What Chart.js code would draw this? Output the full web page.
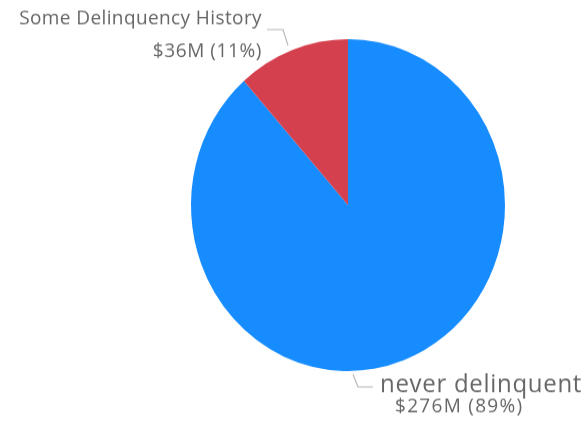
<!DOCTYPE html>
<html>
<head>
<meta charset="utf-8">
<script src="https://cdn.jsdelivr.net/npm/chart.js@4"></script>
<style>
  html, body { margin: 0; padding: 0; background: #fff; overflow: hidden; }
  #wrap { width: 586px; height: 425px; }
  #pie { display: block; transform: scaleY(1.0572); transform-origin: 0 0; }
</style>
</head>
<body>
<div id="wrap"><canvas id="pie" width="586" height="402" style="width:586px;height:402px"></canvas></div>
<script>
const categories = ['never delinquent', 'Some Delinquency History'];
const amounts = [276, 36];          // $M
const amountLabels = ['$276M (89%)', '$36M (11%)'];
const sliceColors = ['#168CFF', '#D5404E'];

function label(ctx, text, x, y, size, spacing) {
  ctx.font = size + 'px "Open Sans"';
  ctx.letterSpacing = spacing + 'px';
  ctx.fillText(text, x, y);
}

// category + amount labels with leader lines, drawn after the slices
const calloutPlugin = {
  id: 'callouts',
  afterDraw(chart) {
    const ctx = chart.ctx;
    const arc = chart.getDatasetMeta(0).data[0];
    const cx = arc.x, cy = arc.y, r = arc.outerRadius;
    ctx.save();
    ctx.fillStyle = '#666666';

    // small slice (top left)
    ctx.textAlign = 'right';
    ctx.textBaseline = 'alphabetic';
    label(ctx, categories[1], cx - 86, cy - 171, 19, 0.4);
    label(ctx, amountLabels[1], cx - 86, cy - 140, 19, 0.6);

    // big slice (bottom right)
    ctx.textAlign = 'left';
    label(ctx, categories[0], cx + 32, cy + 177, 24, 0.7);
    label(ctx, amountLabels[0], cx + 47, cy + 196, 19, 1.3);

    ctx.letterSpacing = '0px';
    ctx.strokeStyle = '#b8b8b8';
    ctx.lineWidth = 1.2;
    ctx.beginPath();
    ctx.moveTo(cx - 81, cy - 166);
    ctx.lineTo(cx - 65, cy - 166);
    ctx.lineTo(cx - 60, cy - 151);
    ctx.stroke();
    ctx.beginPath();
    ctx.moveTo(cx + 5, r + cy + 3);
    ctx.lineTo(cx + 10, r + cy + 15);
    ctx.lineTo(cx + 25, r + cy + 15);
    ctx.stroke();
    ctx.restore();
  }
};

new Chart(document.getElementById('pie').getContext('2d'), {
  type: 'pie',
  data: {
    labels: categories,
    datasets: [{
      data: amounts,
      backgroundColor: sliceColors,
      borderWidth: 0
    }]
  },
  options: {
    responsive: false,
    animation: false,
    layout: { padding: { left: 191, right: 81, top: 37, bottom: 51 } },
    plugins: {
      legend: { display: false },
      tooltip: { enabled: false }
    }
  },
  plugins: [calloutPlugin]
});
</script>
</body>
</html>
